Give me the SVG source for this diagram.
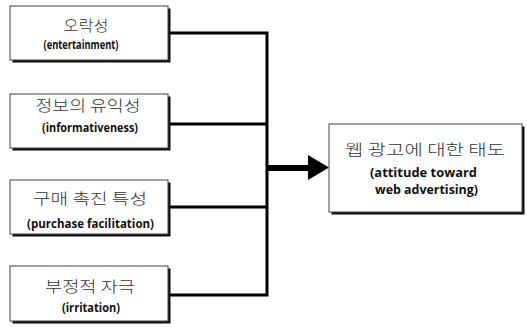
<svg xmlns="http://www.w3.org/2000/svg" width="527" height="327" viewBox="0 0 527 327">
<style>
.sh{fill:#111}
.bx{fill:#fff;stroke:#444;stroke-width:1}
.ko{font-family:"Noto Sans CJK KR","Noto Sans",sans-serif;font-size:15px;fill:#333;text-anchor:middle;font-weight:300}
.en{font-family:"Open Sans","Liberation Sans",sans-serif;font-size:12.5px;font-weight:bold;fill:#111;text-anchor:middle}
.ln{stroke:#000;stroke-width:3;fill:none}
</style>
<rect width="527" height="327" fill="#fff"/>
<g id="connectors">
<path class="ln" d="M170 33H267M170 124H267M170 207H267M170 295H267M267 31.5V296.5"/>
<path d="M267 168H309" stroke="#000" stroke-width="6"/>
<polygon points="308,155 329,167.5 308,180" fill="#000"/>
</g>
<g id="n1">
<rect class="sh" x="12.5" y="8.5" width="158" height="54"/>
<rect class="bx" x="10" y="6" width="158" height="54"/>
<text class="ko" x="86" y="31" textLength="45" lengthAdjust="spacingAndGlyphs">오락성</text>
<text class="en" x="81" y="48.5" textLength="75" lengthAdjust="spacingAndGlyphs">(entertainment)</text>
</g>
<g id="n2">
<rect class="sh" x="12.5" y="96.5" width="158" height="54"/>
<rect class="bx" x="10" y="94" width="158" height="54"/>
<text class="ko" x="88" y="111" textLength="105" lengthAdjust="spacingAndGlyphs">정보의 유익성</text>
<text class="en" x="90" y="131.5" textLength="96" lengthAdjust="spacingAndGlyphs">(informativeness)</text>
</g>
<g id="n3">
<rect class="sh" x="12.5" y="182.5" width="158" height="54"/>
<rect class="bx" x="10" y="180" width="158" height="54"/>
<text class="ko" x="90" y="204" textLength="114" lengthAdjust="spacingAndGlyphs">구매 촉진 특성</text>
<text class="en" x="90.5" y="227.5" textLength="127" lengthAdjust="spacingAndGlyphs">(purchase facilitation)</text>
</g>
<g id="n4">
<rect class="sh" x="12.5" y="268.5" width="158" height="55"/>
<rect class="bx" x="10" y="266" width="158" height="55"/>
<text class="ko" x="90" y="292" textLength="90" lengthAdjust="spacingAndGlyphs">부정적 자극</text>
<text class="en" x="91" y="311.5" textLength="58" lengthAdjust="spacingAndGlyphs">(irritation)</text>
</g>
<g id="target">
<rect class="sh" x="331.5" y="126.5" width="193" height="88"/>
<rect class="bx" x="329" y="124" width="193" height="88"/>
<text class="ko" x="425" y="155" textLength="160" lengthAdjust="spacingAndGlyphs">웹 광고에 대한 태도</text>
<text class="en" x="423.5" y="176.5" textLength="107" lengthAdjust="spacingAndGlyphs">(attitude toward</text>
<text class="en" x="426.5" y="193.5" textLength="103" lengthAdjust="spacingAndGlyphs">web advertising)</text>
</g>
</svg>
